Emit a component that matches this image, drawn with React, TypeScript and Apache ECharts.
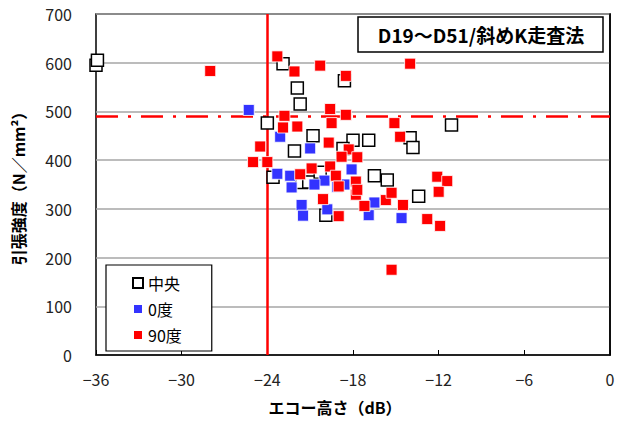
import React, { useEffect, useRef } from "react";
import * as echarts from "echarts";

// ---- data (x: echo height dB, y: tensile strength N/mm2) ----
const centerPoints: [number, number][] = [
  [-36.0, 595], [-35.9, 605], [-22.9, 598], [-21.9, 548], [-21.7, 515],
  [-24.0, 476], [-18.6, 563], [-20.8, 450], [-22.1, 419], [-18.0, 441],
  [-16.9, 441], [-11.1, 472], [-14.0, 446], [-13.8, 426], [-16.5, 368],
  [-15.6, 359], [-13.4, 326], [-23.6, 365], [-19.9, 287], [-18.7, 424],
  [-21.6, 354], [-21.1, 355], [-20.3, 375],
];
const deg0Points: [number, number][] = [
  [-25.3, 503], [-23.1, 448], [-21.0, 424], [-23.3, 372], [-22.4, 368],
  [-22.3, 344], [-20.0, 358], [-20.7, 350], [-21.6, 308], [-21.5, 286],
  [-19.8, 299], [-18.1, 381], [-18.6, 350], [-16.5, 313], [-16.9, 287],
  [-14.6, 281], [-19.1, 345],
];
const deg90Points: [number, number][] = [
  [-28.0, 583], [-23.3, 613], [-22.1, 582], [-20.3, 594], [-14.0, 598],
  [-18.5, 573], [-19.6, 505], [-18.5, 493], [-22.8, 491], [-19.5, 476],
  [-15.1, 476], [-22.9, 467], [-21.9, 469], [-14.7, 448], [-19.7, 436],
  [-24.5, 428], [-18.3, 422], [-25.0, 396], [-24.0, 396], [-17.7, 406],
  [-18.8, 407], [-20.9, 383], [-19.6, 387], [-21.7, 371], [-19.2, 368],
  [-17.8, 356], [-19.0, 346], [-20.1, 320], [-19.0, 285], [-17.8, 329],
  [-17.7, 339], [-17.2, 306], [-15.7, 318], [-15.3, 333], [-14.5, 308],
  [-12.1, 366], [-11.4, 357], [-12.0, 335], [-12.8, 279], [-11.9, 265],
  [-15.3, 175],
];
const seriesNames = ["中央", "0度", "90度"];
const thresholdDb = -24;
const thresholdStrength = 490;
const xTicks = { min: -36, max: 0, interval: 6 };
const yTicks = { min: 0, max: 700, interval: 100 };
const titleText = "D19～D51/斜めK走査法";
const xName = "エコー高さ（dB）";
const yName = "引張強度（N／mm²）";

const FONT = "'Noto Sans CJK JP', 'Noto Sans', sans-serif";

export default function App() {
  const ref = useRef<HTMLDivElement>(null);
  useEffect(() => {
    if (!ref.current) return;
    const chart = echarts.init(ref.current, undefined, { renderer: "svg" });
    chart.setOption({
      animation: false,
      textStyle: { fontFamily: FONT },
      grid: {
        left: 96,
        right: 14,
        top: 14,
        bottom: 66,
        show: true,
        borderColor: "#000",
        borderWidth: 1.5,
      },
      xAxis: {
        type: "value",
        min: xTicks.min,
        max: xTicks.max,
        interval: xTicks.interval,
        name: xName,
        nameLocation: "middle",
        nameGap: 44,
        nameTextStyle: { fontSize: 16, fontWeight: "bold", color: "#000", fontFamily: FONT, padding: [0, 36, 0, 0] },
        axisLine: { show: true, lineStyle: { color: "#000", width: 1.5 } },
        axisTick: { show: true, inside: true, length: 5, lineStyle: { color: "#000" } },
        axisLabel: {
          fontSize: 16,
          color: "#222",
          margin: 16,
          fontFamily: FONT,
          formatter: (v: number) => (v < 0 ? "−" + Math.abs(v) : String(v)),
        },
        splitLine: { show: false },
      },
      yAxis: {
        type: "value",
        min: yTicks.min,
        max: yTicks.max,
        interval: yTicks.interval,
        name: yName,
        nameLocation: "middle",
        nameGap: 70,
        nameRotate: 90,
        nameTextStyle: { fontSize: 16, fontWeight: "bold", color: "#000", fontFamily: FONT },
        axisLine: { show: true, lineStyle: { color: "#000", width: 1.5 } },
        axisTick: { show: false },
        axisLabel: { fontSize: 16, color: "#222", margin: 24, fontFamily: FONT },
        splitLine: { show: true, lineStyle: { color: "#a6a6a6", width: 1.5 } },
      },
      legend: {
        orient: "vertical",
        left: 106,
        top: 265,
        backgroundColor: "#fff",
        borderColor: "#000",
        borderWidth: 1.2,
        borderRadius: 0,
        padding: [10, 30, 8, 26],
        itemWidth: 10,
        itemHeight: 10,
        itemGap: 10,
        textStyle: { fontSize: 16, color: "#000", fontFamily: FONT },
        data: seriesNames,
        z: 20,
      },
      graphic: [
        {
          type: "rect",
          shape: { x: 358, y: 17, width: 245, height: 35 },
          style: { fill: "#fff", stroke: "#000", lineWidth: 1.5 },
          z: 20,
        },
        {
          type: "text",
          x: 481,
          y: 34.5,
          style: {
            text: titleText,
            fontSize: 19,
            fontWeight: "bold",
            fontFamily: FONT,
            fill: "#000",
            align: "center",
            verticalAlign: "middle",
          },
          z: 21,
        },
      ],
      series: [
        {
          type: "scatter",
          name: "refLines",
          data: [],
          silent: true,
          markLine: {
            silent: true,
            symbol: "none",
            z: 3,
            label: { show: false },
            animation: false,
            data: [
              { xAxis: thresholdDb, lineStyle: { color: "#ff0000", width: 2.5, type: "solid" } },
              { yAxis: thresholdStrength, lineStyle: { color: "#ff0000", width: 2.5, type: [22, 10, 3, 10] } },
            ],
          },
        },
        {
          type: "scatter",
          name: seriesNames[0],
          data: centerPoints,
          symbol: "rect",
          symbolSize: 12,
          z: 10,
          itemStyle: { color: "#fff", borderColor: "#000", borderWidth: 1.5, opacity: 1 },
        },
        {
          type: "scatter",
          name: seriesNames[1],
          data: deg0Points,
          symbol: "rect",
          symbolSize: 11,
          z: 11,
          itemStyle: { color: "#3333ff", borderColor: "#fff", borderWidth: 0.8, opacity: 1 },
        },
        {
          type: "scatter",
          name: seriesNames[2],
          data: deg90Points,
          symbol: "rect",
          symbolSize: 11,
          z: 12,
          itemStyle: { color: "#ff0000", borderColor: "#fff", borderWidth: 0.8, opacity: 1 },
        },
      ],
    });
    return () => chart.dispose();
  }, []);
  return (
    <div
      ref={ref}
      style={{ position: "absolute", left: 0, top: 0, width: 624, height: 421 }}
    />
  );
}
